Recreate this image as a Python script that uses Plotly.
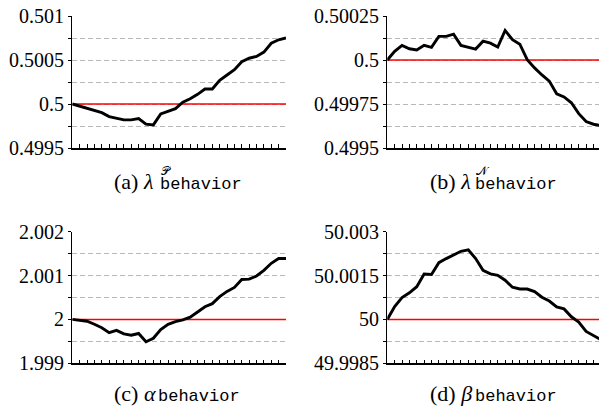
import plotly.graph_objects as go

W, H = 599, 408

steps = list(range(30))

lam_p = [0.5, 0.499974, 0.499947, 0.499925, 0.499902, 0.499857, 0.499842, 0.49982, 0.49982, 0.499835,
         0.499771, 0.499763, 0.499887, 0.499917, 0.499947, 0.50002, 0.50006, 0.50011, 0.50017, 0.50017,
         0.50027, 0.50033, 0.50039, 0.50048, 0.50052, 0.50054, 0.50059, 0.50069, 0.50073, 0.50075]
lam_n = [0.5, 0.500049, 0.500083, 0.500064, 0.500057, 0.500083, 0.500072, 0.500134, 0.500134, 0.500147,
         0.500083, 0.500072, 0.500062, 0.500107, 0.500096, 0.500074, 0.500168, 0.500115, 0.50009, 0.500002,
         0.499955, 0.499915, 0.49988, 0.499808, 0.49979, 0.499757, 0.499695, 0.49965, 0.499635, 0.499628]
alpha = [2.0, 1.99998, 1.99996, 1.99989, 1.99981, 1.9997, 1.99975, 1.99967, 1.99964, 1.99968,
         1.99949, 1.99957, 1.99977, 1.99989, 1.99995, 1.99999, 2.00005, 2.00017, 2.00029, 2.00036,
         2.00052, 2.00064, 2.00073, 2.00091, 2.00092, 2.00099, 2.00112, 2.00128, 2.00139, 2.00139]
beta = [50.0, 50.00044, 50.00075, 50.00091, 50.00112, 50.00155, 50.00154, 50.00194, 50.00208, 50.00221,
        50.00233, 50.00238, 50.00208, 50.00168, 50.00156, 50.00151, 50.00134, 50.0011, 50.00104, 50.00104,
        50.00095, 50.00076, 50.00063, 50.00043, 50.00036, 50.00009, 49.99991, 49.99959, 49.99945, 49.99931]

ref_values = [0.5, 0.5, 2.0, 50.0]

tickvals_a = [0.4995, 0.49975, 0.5, 0.50025, 0.5005, 0.50075, 0.501]
ticktext_a = ["0.4995", "", "0.5", "", "0.5005", "", "0.501"]
tickvals_b = [0.4995, 0.499625, 0.49975, 0.499875, 0.5, 0.500125, 0.50025]
ticktext_b = ["0.4995", "", "0.49975", "", "0.5", "", "0.50025"]
tickvals_c = [1.999, 1.9995, 2.0, 2.0005, 2.001, 2.0015, 2.002]
ticktext_c = ["1.999", "", "2", "", "2.001", "", "2.002"]
tickvals_d = [49.9985, 49.99925, 50.0, 50.00075, 50.0015, 50.00225, 50.003]
ticktext_d = ["49.9985", "", "50", "", "50.0015", "", "50.003"]

captions = ["(a) <i>λ</i>", "(b) <i>λ</i>", "(c) <i>α</i>", "(d) <i>β</i>"]
sups = ["𝒫", "𝒩", "", ""]
sub_text = "behavior"

series = [lam_p, lam_n, alpha, beta]
tvs = [tickvals_a, tickvals_b, tickvals_c, tickvals_d]
tts = [ticktext_a, ticktext_b, ticktext_c, ticktext_d]

# layout geometry in pixels: (left, right, top, bottom, xmax)
geo = [(72.3, 286.0, 16.0, 148.0, 29),
       (387.3, 599.0, 16.0, 148.0, 28.75),
       (72.3, 286.0, 231.7, 363.3, 29),
       (387.3, 599.0, 231.7, 363.3, 28.75)]
cap_x = [112, 428, 112, 428]
sub_dx = [46, 45, 44, 45]

def px(x):
    return x / W

def py(y):
    return 1 - y / H

fig = go.Figure()
serif = "Liberation Serif"
mono = "Liberation Mono"
script = "DejaVu Serif"

for i in range(4):
    l, r, t, b, xmax = geo[i]
    n = "" if i == 0 else str(i + 1)
    fig.add_trace(go.Scatter(x=[steps[0], steps[-1]], y=[ref_values[i], ref_values[i]],
                             mode="lines", line=dict(color="#ff0000", width=1.6),
                             xaxis="x" + n, yaxis="y" + n, showlegend=False,
                             hoverinfo="skip"))
    fig.add_trace(go.Scatter(x=steps, y=series[i], mode="lines",
                             line=dict(color="black", width=2.9),
                             xaxis="x" + n, yaxis="y" + n, showlegend=False,
                             hoverinfo="skip"))
    fig.update_layout(**{
        "xaxis" + n: dict(domain=[px(l), px(r)], anchor="y" + n, range=[0, xmax],
                          tickvals=steps, ticks="inside", ticklen=4, tickwidth=1,
                          tickcolor="black", showticklabels=False, showgrid=False,
                          zeroline=False, showline=True, linecolor="black", linewidth=1.6,
                          fixedrange=True),
        "yaxis" + n: dict(domain=[py(b), py(t)], anchor="x" + n,
                          range=[tvs[i][0], tvs[i][-1]],
                          tickvals=tvs[i], ticktext=tts[i], ticks="outside", ticklen=3,
                          tickwidth=1, tickcolor="black", showgrid=True,
                          gridcolor="#b8b8b8", gridwidth=1, griddash="5px,3px",
                          zeroline=False, showline=True, linecolor="black", linewidth=1.4,
                          tickfont=dict(family=serif, size=20, color="black"),
                          automargin=False, fixedrange=True),
    })
    cx = cap_x[i]
    if i < 2:
        main_y, main_anchor = py(181), "middle"
        sub_y, sub_anchor = py(185), "middle"
        sup_y = py(171)
    else:
        main_y, main_anchor = py(407.5), "bottom"
        sub_y, sub_anchor = py(407.5), "bottom"
        sup_y = None
    fig.add_annotation(text=captions[i], x=px(cx), y=main_y, xref="paper", yref="paper",
                       xanchor="left", yanchor=main_anchor, showarrow=False,
                       font=dict(family=serif, size=22, color="black"))
    if sups[i]:
        fig.add_annotation(text=sups[i], x=px(cx + sub_dx[i] + 1), y=sup_y, xref="paper",
                           yref="paper", xanchor="left", yanchor="middle", showarrow=False,
                           font=dict(family=script, size=12, color="black"))
    fig.add_annotation(text=sub_text, x=px(cx + sub_dx[i]), y=sub_y, xref="paper",
                       yref="paper", xanchor="left", yanchor=sub_anchor, showarrow=False,
                       font=dict(family=mono, size=17, color="black"))

fig.update_layout(width=W, height=H, margin=dict(l=0, r=0, t=0, b=0),
                  paper_bgcolor="white", plot_bgcolor="white", showlegend=False)

fig.write_html("out.html", config={"displayModeBar": False},
               post_script="document.body.style.margin='0px';document.body.style.overflow='hidden';")
